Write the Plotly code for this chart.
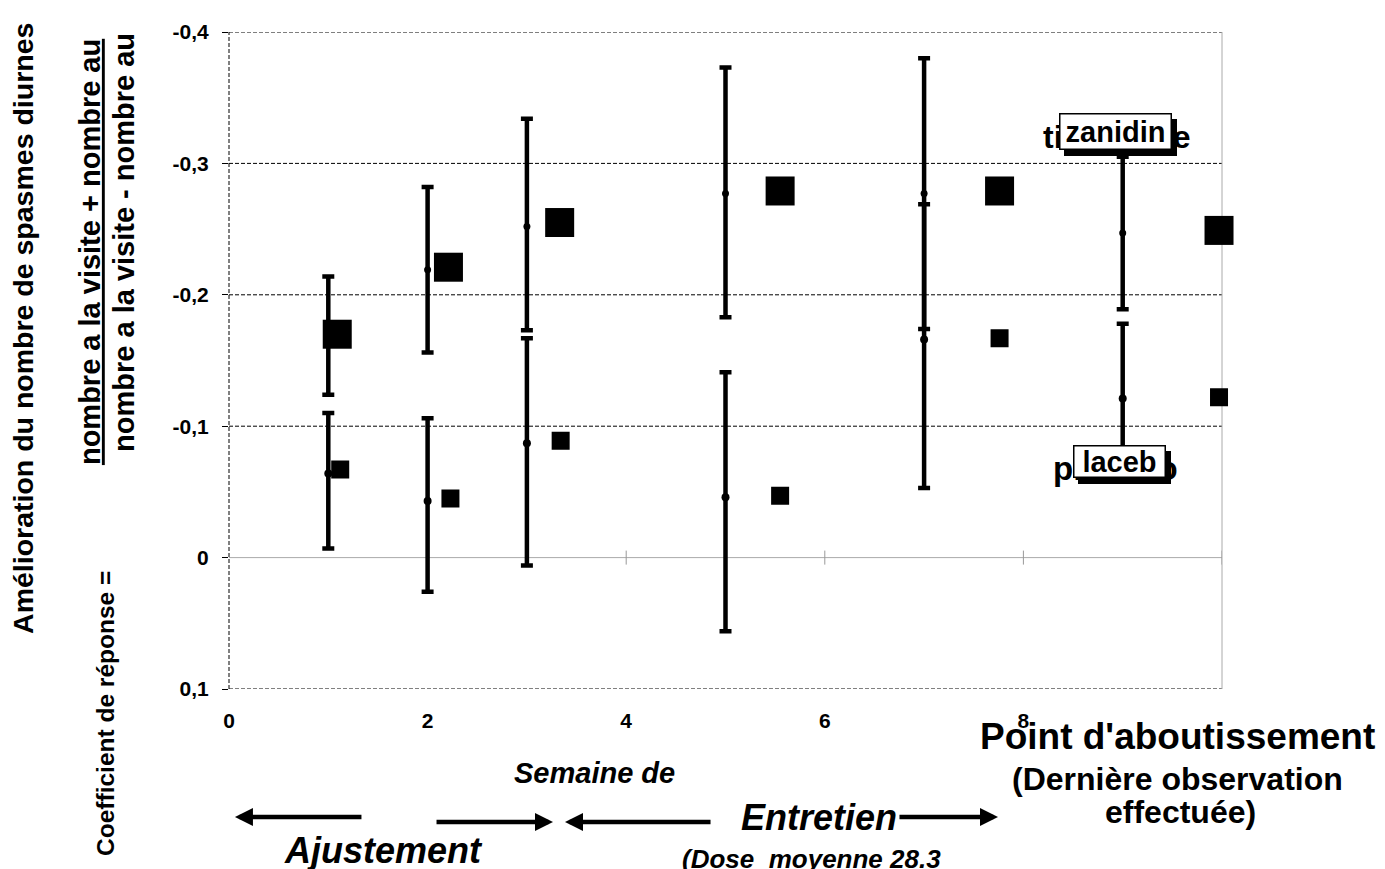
import plotly.graph_objects as go

# ---------------- data ----------------
weeks = [1, 2, 3, 5, 7, 9]                      # error-bar positions (week 9 = endpoint)
tiz_mean = [-0.169, -0.219, -0.252, -0.277, -0.277, -0.247]
tiz_top = [-0.214, -0.282, -0.334, -0.373, -0.380, -0.305]
tiz_bottom = [-0.124, -0.156, -0.173, -0.183, -0.174, -0.189]
pla_mean = [-0.064, -0.043, -0.087, -0.046, -0.166, -0.121]
pla_top = [-0.110, -0.106, -0.167, -0.141, -0.269, -0.178]
pla_bottom = [-0.007, 0.026, 0.006, 0.056, -0.053, -0.064]

tiz_sq_x = [1.09, 2.21, 3.33, 5.55, 7.76, 9.97]
tiz_sq_y = [-0.170, -0.221, -0.255, -0.279, -0.279, -0.249]
pla_sq_x = [1.12, 2.23, 3.34, 5.55, 7.76, 9.97]
pla_sq_y = [-0.067, -0.045, -0.089, -0.047, -0.167, -0.122]

y_ticks = [-0.4, -0.3, -0.2, -0.1, 0, 0.1]
y_ticktext = ["-0,4", "-0,3", "-0,2", "-0,1", "0", "0,1"]
x_ticks = [0, 2, 4, 6, 8]
x_ticktext = ["0", "2", "4", "6", "8"]

FONT = "Liberation Sans, Arial, sans-serif"

fig = go.Figure()


def err_trace(means, tops, bottoms, msize):
    plus = [b - m for m, b in zip(means, bottoms)]
    minus = [m - t for m, t in zip(means, tops)]
    return go.Scatter(
        x=weeks, y=means, mode="markers",
        marker=dict(symbol="circle", size=msize, color="black"),
        error_y=dict(type="data", symmetric=False, array=plus, arrayminus=minus,
                     color="black", thickness=4.5, width=6),
        cliponaxis=False, showlegend=False, hoverinfo="skip")


fig.add_trace(err_trace(tiz_mean, tiz_top, tiz_bottom, 7))
fig.add_trace(err_trace(pla_mean, pla_top, pla_bottom, 8))

fig.add_trace(go.Scatter(x=tiz_sq_x, y=tiz_sq_y, mode="markers",
                         marker=dict(symbol="square", size=29, color="black"),
                         cliponaxis=False, showlegend=False))
fig.add_trace(go.Scatter(x=pla_sq_x, y=pla_sq_y, mode="markers",
                         marker=dict(symbol="square", size=15, color="black",
                                     line=dict(color="black", width=3)),
                         cliponaxis=False, showlegend=False))

shapes = []
for v in y_ticks:
    if v == 0:
        shapes.append(dict(type="line", xref="paper", x0=0, x1=1, yref="y", y0=v, y1=v,
                           line=dict(color="#aaaaaa", width=1), layer="below"))
    else:
        shapes.append(dict(type="line", xref="paper", x0=0, x1=1, yref="y", y0=v, y1=v,
                           line=dict(color="black", width=1, dash="4px,2px"), layer="below"))
shapes.append(dict(type="line", xref="paper", x0=0, x1=0, yref="paper", y0=0, y1=1,
                   line=dict(color="black", width=1, dash="4px,2px"), layer="below"))
shapes.append(dict(type="line", xref="paper", x0=1, x1=1, yref="paper", y0=0, y1=1,
                   line=dict(color="#aaaaaa", width=1), layer="below"))
for t in x_ticks[1:] + [10]:
    shapes.append(dict(type="line", xref="x", x0=t, x1=t, yref="y", ysizemode="pixel",
                       yanchor=0, y0=-7, y1=7, line=dict(color="#999999", width=1),
                       layer="below"))

ann = []


def text(x, y, s, size, italic=False, xref="paper", yref="paper", angle=0, **kw):
    d = dict(x=x, y=y, xref=xref, yref=yref, text=s, showarrow=False,
             textangle=angle, xanchor="center", yanchor="middle",
             font=dict(family=FONT, size=size, color="black", weight="bold",
                       style="italic" if italic else "normal"))
    d.update(kw)
    ann.append(d)


# y-axis titles
text(-0.2075, 0.5495, "Amélioration du nombre de spasmes diurnes", 28.5, angle=-90)
text(-0.140, 0.665, "<u>nombre a la visite + nombre au</u>", 29, angle=-90)
text(-0.1057, 0.679, "nombre a la visite - nombre au", 29, angle=-90)
text(-0.1239, -0.0365, "Coefficient de réponse =", 24.5, angle=-90)

# bottom texts
text(0.3676, -0.128, "Semaine de", 29, italic=True)
text(0.156, -0.246, "Ajustement", 36, italic=True)
text(0.594, -0.196, "Entretien", 36, italic=True)
text(0.587, -0.258, "(Dose\u00a0 moyenne 28.3", 26, italic=True)
text(0.9547, -0.072, "Point d'aboutissement", 37)
text(0.955, -0.137, "(Dernière observation", 32)
text(0.958, -0.187, "effectuée)", 32)


def arrow(xhead, yhead, ax):
    ann.append(dict(x=xhead, y=yhead, xref="paper", yref="paper", ax=ax, ay=0,
                    text="", showarrow=True, arrowhead=2, arrowsize=0.8,
                    arrowwidth=4.5, arrowcolor="black"))


arrow(0.0060, -0.1948, 128)
arrow(0.3263, -0.2024, -118)
arrow(0.3384, -0.2024, 147)
arrow(0.7744, -0.1948, -100)

# series labels with shadowed boxes
for (tx, ty, full, fs, bx, by, inner, bw, bh) in [
    (8.94, -0.320, "tizanidine", 32, 8.93, -0.324, "zanidin", 106, 30),
    (8.93, -0.068, "placebo", 33, 8.97, -0.073, "laceb", 86, 26),
]:
    text(tx, ty, full, fs, xref="x", yref="y")
    text(bx, by, inner, 29, xref="x", yref="y", bgcolor="black",
         bordercolor="black", borderwidth=1.5, borderpad=2, xshift=5, yshift=-6,
         width=bw, height=bh)
    text(bx, by, inner, 29, xref="x", yref="y", bgcolor="white",
         bordercolor="black", borderwidth=1.5, borderpad=2, width=bw, height=bh)

# the page adds an 8px body margin, so the figure is reduced by that amount
fig.update_layout(
    width=1377, height=861,
    margin=dict(l=221, r=163, t=24, b=180),
    paper_bgcolor="white", plot_bgcolor="white",
    shapes=shapes, annotations=ann,
    xaxis=dict(range=[0, 10], tickvals=x_ticks, ticktext=x_ticktext,
               showgrid=False, zeroline=False, showline=False, ticks="",
               ticklabelstandoff=17,
               tickfont=dict(family=FONT, size=21, color="black", weight="bold")),
    yaxis=dict(range=[0.1, -0.4], tickvals=y_ticks, ticktext=y_ticktext,
               showgrid=False, zeroline=False, showline=False,
               ticks="outside", ticklen=6, tickcolor="black", tickwidth=1,
               ticklabelstandoff=9,
               tickfont=dict(family=FONT, size=21, color="black", weight="bold")),
)

fig.write_html("out.html")
